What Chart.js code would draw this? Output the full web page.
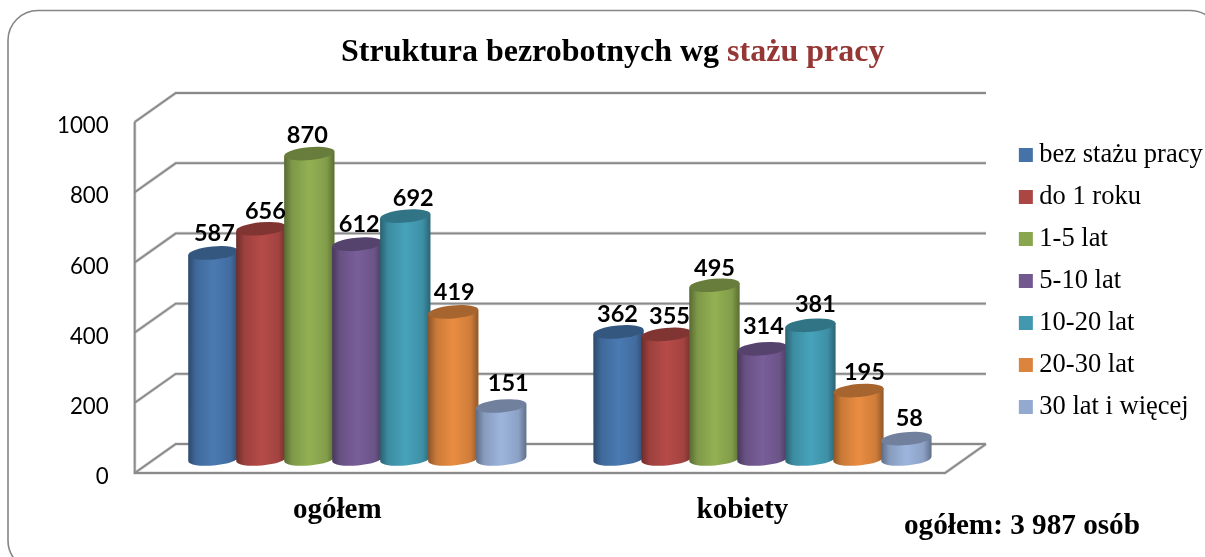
<!DOCTYPE html>
<html><head><meta charset="utf-8">
<style>html,body{margin:0;padding:0;background:#fff}#w{position:relative;width:1205px;height:557px;overflow:hidden}</style>
<script src="https://cdn.jsdelivr.net/npm/chart.js@4"></script>
</head><body><div id="w"><canvas id="c" width="1205" height="557"></canvas></div>
<script>
const categories = ['ogółem', 'kobiety'];
const seriesNames = ['bez stażu pracy', 'do 1 roku', '1-5 lat', '5-10 lat', '10-20 lat', '20-30 lat', '30 lat i więcej'];
const bezStazu = [587, 362];
const do1Roku = [656, 355];
const lat1do5 = [870, 495];
const lat5do10 = [612, 314];
const lat10do20 = [692, 381];
const lat20do30 = [419, 195];
const lat30plus = [151, 58];
const seriesValues = [bezStazu, do1Roku, lat1do5, lat5do10, lat10do20, lat20do30, lat30plus];
const seriesColors = ['#4572A7', '#AA4643', '#89A54E', '#71588F', '#4198AF', '#DB843D', '#93A9CF'];
const yTicks = [0, 200, 400, 600, 800, 1000];
const titleParts = ['Struktura bezrobotnych wg ', 'stażu pracy'];
const totalNote = 'ogółem: 3 987 osób';
// small nudges of value labels, per series then category
const labelNudgeX = [[1, -1], [4, 3], [-2, 0], [2, 1], [8, 5], [1, 6], [7, 3]];
const labelNudgeY = [[0, 2], [3, 2], [2, 3], [0, -2], [2, -1], [0, 2], [-3, 0]];

const DEPTH_X = 41, DEPTH_Y = 29, BAR_DX = 20, BAR_DY = -14, ELL_RY = 6.5, TILT = -0.09;
const SERIF = '"Liberation Serif", serif';
const SANS = 'Lato, sans-serif';

function shade(hex, f) {
  const n = parseInt(hex.slice(1), 16);
  const ch = s => Math.max(0, Math.min(255, Math.round(((n >> s) & 255) * f)));
  return `rgb(${ch(16)},${ch(8)},${ch(0)})`;
}

// cylinder look for every bar element; geometry comes from the library's scales
Chart.BarElement.prototype.draw = function (ctx) {
  const color = this.options.backgroundColor;
  const { x, y, base, width } = this;
  const rx = width / 2 + 1.2;
  const g = ctx.createLinearGradient(x - rx, 0, x + rx, 0);
  g.addColorStop(0, shade(color, 0.64));
  g.addColorStop(0.16, shade(color, 0.92));
  g.addColorStop(0.5, shade(color, 1.07));
  g.addColorStop(0.84, shade(color, 0.95));
  g.addColorStop(1, shade(color, 0.66));
  ctx.save();
  const dy = Math.sin(TILT) * rx;
  ctx.beginPath();
  ctx.moveTo(x - rx, y - dy);
  ctx.lineTo(x + rx, y + dy);
  ctx.lineTo(x + rx, base + dy);
  ctx.ellipse(x, base, rx, ELL_RY, TILT, 0, Math.PI);
  ctx.closePath();
  ctx.fillStyle = g;
  ctx.fill();
  ctx.beginPath();
  ctx.ellipse(x, y, rx, ELL_RY, TILT, 0, Math.PI * 2);
  ctx.fillStyle = shade(color, 0.76);
  ctx.fill();
  ctx.restore();
};

const frame = {
  id: 'frame',
  beforeDraw(chart) {
    const c = chart.ctx;
    c.save();
    c.strokeStyle = '#858585';
    c.lineWidth = 1.6;
    c.beginPath();
    c.roundRect(8, 10.5, 1212, 560, 30);
    c.stroke();
    c.font = 'bold 32px ' + SERIF;
    c.textBaseline = 'middle';
    c.textAlign = 'left';
    const w0 = c.measureText(titleParts[0]).width;
    c.fillStyle = '#000';
    c.fillText(titleParts[0], 341, 53);
    c.fillStyle = '#953735';
    c.fillText(titleParts[1], 341 + w0, 53);
    c.fillStyle = '#000';
    c.font = 'bold 29.2px ' + SERIF;
    c.fillText(totalNote, 904, 526);
    c.restore();
  }
};

const walls = {
  id: 'walls',
  afterLayout(chart) {
    const L = chart.legend;
    L.left = 1010.1; L.right = 1205; L.top = 126.2; L.bottom = 440;
  },
  beforeDatasetsDraw(chart) {
    const c = chart.ctx, ys = chart.scales.y, a = chart.chartArea;
    c.save();
    const strokeAll = (style, width) => {
      c.strokeStyle = style; c.lineWidth = width; c.lineJoin = 'miter';
      yTicks.forEach(v => {
        const p = ys.getPixelForValue(v);
        c.beginPath();
        c.moveTo(a.left, p);
        c.lineTo(a.left + DEPTH_X, p - DEPTH_Y);
        c.lineTo(a.right + DEPTH_X, p - DEPTH_Y);
        c.stroke();
      });
      const p0 = ys.getPixelForValue(0), p1 = ys.getPixelForValue(1000);
      c.beginPath();
      c.moveTo(a.left, p1);
      c.lineTo(a.left, p0);
      c.lineTo(a.right, p0);
      c.lineTo(a.right + DEPTH_X, p0 - DEPTH_Y);
      c.stroke();
    };
    strokeAll('#d4d4d4', 3.2);
    strokeAll('#8a8a8a', 1.8);
    c.restore();
    // draw series left to right, shifted into the 3D floor
    c.save();
    c.translate(BAR_DX, BAR_DY);
    chart.getSortedVisibleDatasetMetas().forEach(m => m.controller.draw());
    c.restore();
    // value labels
    c.save();
    c.font = 'bold 23.5px ' + SANS;
    c.fillStyle = '#000';
    c.textAlign = 'center';
    c.textBaseline = 'middle';
    chart.getSortedVisibleDatasetMetas().forEach((m, i) => {
      m.data.forEach((el, j) => {
        c.fillText(String(seriesValues[i][j]), el.x + BAR_DX + labelNudgeX[i][j], el.y + BAR_DY - 20 + labelNudgeY[i][j]);
      });
    });
    c.restore();
    return false;
  }
};

new Chart(document.getElementById('c'), {
  type: 'bar',
  plugins: [frame, walls],
  data: {
    labels: categories,
    datasets: seriesNames.map((n, i) => ({
      label: n, data: seriesValues[i], backgroundColor: seriesColors[i], borderWidth: 0,
      categoryPercentage: 0.829, barPercentage: 1, clip: false
    }))
  },
  options: {
    responsive: false, animation: false,
    layout: { padding: { left: 31, top: 122, right: 250, bottom: 0 } },
    plugins: {
      title: { display: false },
      tooltip: { enabled: false },
      legend: {
        position: 'right', align: 'start', maxWidth: 10,
        labels: {
          boxWidth: 0.5, boxHeight: 0.5, padding: 15.5, color: '#000',
          font: { family: SERIF, size: 26.5 },
          generateLabels: () => seriesNames.map((n, i) => ({
            text: n, fillStyle: seriesColors[i], strokeStyle: seriesColors[i], lineWidth: 13.5, datasetIndex: i, hidden: false, fontColor: '#000'
          }))
        }
      }
    },
    scales: {
      x: {
        grid: { display: false, drawTicks: false }, border: { display: false },
        ticks: { color: '#000', padding: 20, font: { family: SERIF, size: 29, weight: 'bold' } },
        afterFit(s) { s.height = 84; }
      },
      y: {
        min: 0, max: 1000,
        afterBuildTicks(s) { s.ticks = yTicks.map(v => ({ value: v })); },
        grid: { display: false, drawTicks: false }, border: { display: false },
        ticks: { color: '#000', padding: 26, labelOffset: 4, font: { family: SANS, size: 22.3 }, callback: v => String(v) }
      }
    }
  }
});
</script></body></html>
